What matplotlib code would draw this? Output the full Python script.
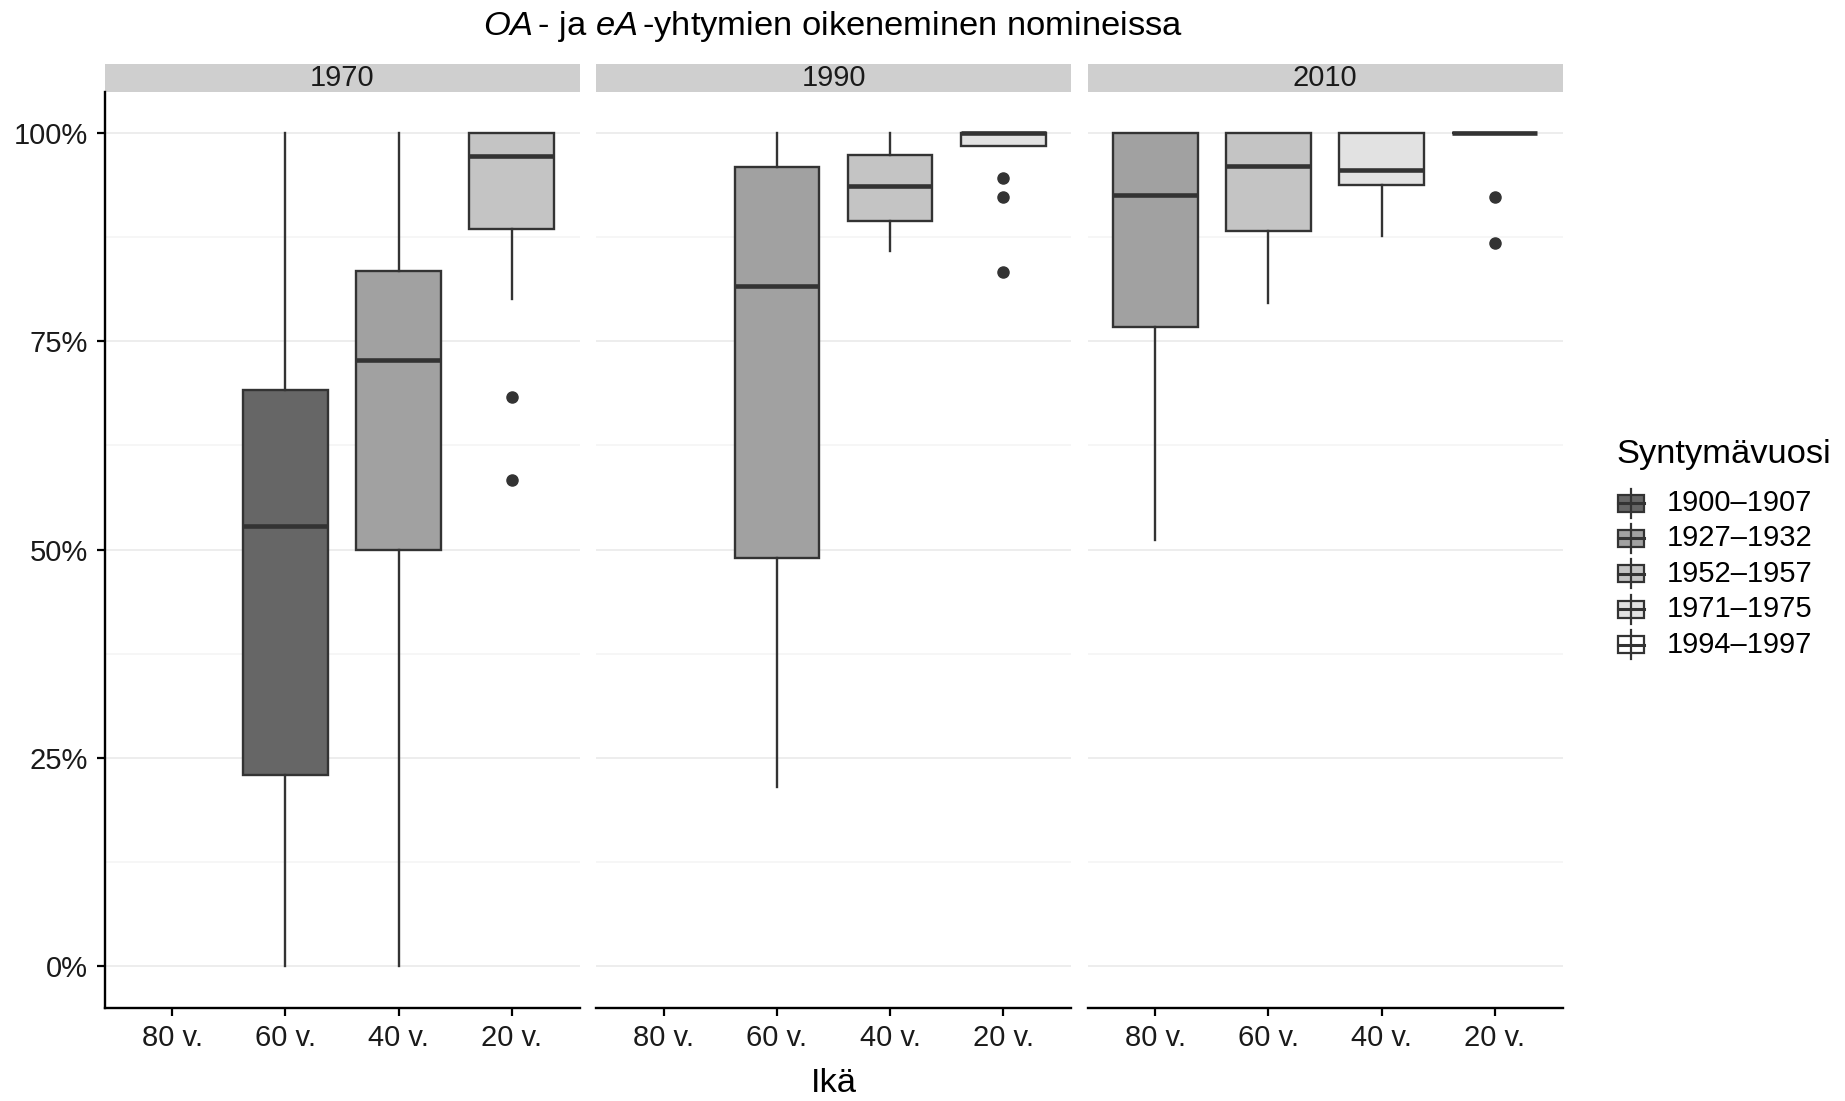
import matplotlib
matplotlib.use("Agg")
import matplotlib.pyplot as plt
from matplotlib.patches import Rectangle
from matplotlib.lines import Line2D
from matplotlib.ticker import PercentFormatter, MultipleLocator

plt.rcParams['font.family'] = ['Liberation Sans', 'DejaVu Sans']
plt.rcParams['mathtext.fontset'] = 'custom'
plt.rcParams['mathtext.rm'] = 'Liberation Sans'
plt.rcParams['mathtext.it'] = 'Liberation Sans:italic'

# ---- data ----
panel_years = ['1970', '1990', '2010']
age_labels = ['80 v.', '60 v.', '40 v.', '20 v.']
cohort_labels = ['1900–1907', '1927–1932', '1952–1957', '1971–1975', '1994–1997']
cohort_fills = ['#666666', '#A1A1A1', '#C4C4C4', '#E2E2E2', '#FFFFFF']

box_year = ['1970', '1970', '1970', '1990', '1990', '1990', '2010', '2010', '2010', '2010']
box_age = ['60 v.', '40 v.', '20 v.', '60 v.', '40 v.', '20 v.', '80 v.', '60 v.', '40 v.', '20 v.']
box_cohort = ['1900–1907', '1927–1932', '1952–1957',
              '1927–1932', '1952–1957', '1971–1975',
              '1927–1932', '1952–1957', '1971–1975', '1994–1997']
whisker_low = [0.0, 0.0, 80.1, 21.5, 85.8, 98.5, 51.1, 79.6, 87.6, 100.0]
q1 = [22.9, 50.0, 88.5, 49.0, 89.4, 98.5, 76.7, 88.2, 93.8, 100.0]
median = [52.8, 72.7, 97.2, 81.7, 93.6, 100.0, 92.6, 96.1, 95.6, 100.0]
q3 = [69.1, 83.4, 100.0, 95.9, 97.4, 100.0, 100.0, 100.0, 100.0, 100.0]
whisker_high = [100.0, 100.0, 100.0, 100.0, 100.0, 100.0, 100.0, 100.0, 100.0, 100.0]
outliers = [[], [], [68.3, 58.3], [], [], [94.6, 92.3, 83.3], [], [], [], [92.3, 86.8]]

W, H = 1845, 1101
fig = plt.figure(figsize=(W / 100, H / 100), dpi=100)
fig.patch.set_facecolor('white')

EDGE = '#333333'
small = 21
large = 24.8

panel_left = [104.5, 596, 1087.5]
panel_w = 475
panel_top, panel_bottom = 91.5, 1007.5
strip_h = 28

axes = []
for p, year in enumerate(panel_years):
    ax = fig.add_axes([panel_left[p] / W, 1 - panel_bottom / H,
                       panel_w / W, (panel_bottom - panel_top) / H])
    axes.append(ax)

    idx = [i for i, y in enumerate(box_year) if y == year]
    stats = []
    pos = []
    for i in idx:
        stats.append({'whislo': whisker_low[i] / 100, 'q1': q1[i] / 100,
                      'med': median[i] / 100, 'q3': q3[i] / 100,
                      'whishi': whisker_high[i] / 100,
                      'fliers': [v / 100 for v in outliers[i]]})
        pos.append(age_labels.index(box_age[i]) + 1)

    res = ax.bxp(stats, positions=pos, widths=0.75, patch_artist=True,
                 showcaps=False,
                 boxprops=dict(edgecolor=EDGE, linewidth=1.7),
                 whiskerprops=dict(color=EDGE, linewidth=1.7),
                 medianprops=dict(color=EDGE, linewidth=3.3, solid_capstyle='butt'),
                 flierprops=dict(marker='o', markersize=8, markerfacecolor=EDGE,
                                 markeredgecolor=EDGE, linestyle='none'))
    for box, i in zip(res['boxes'], idx):
        box.set_facecolor(cohort_fills[cohort_labels.index(box_cohort[i])])
        box.set_zorder(2)
    for m in res['medians']:
        m.set_zorder(3)

    ax.set_xlim(0.4, 4.6)
    ax.set_ylim(-0.05, 1.05)
    ax.set_xticks(range(1, 5))
    ax.set_xticklabels(age_labels)
    ax.yaxis.set_major_locator(MultipleLocator(0.25))
    ax.yaxis.set_minor_locator(MultipleLocator(0.125))
    ax.yaxis.set_major_formatter(PercentFormatter(xmax=1, decimals=0))
    ax.grid(axis='y', which='major', color='#EDEDED', linewidth=1.4, zorder=0)
    ax.grid(axis='y', which='minor', color='#F4F4F4', linewidth=1.1, zorder=0)
    ax.set_axisbelow(True)

    for s in ['top', 'right']:
        ax.spines[s].set_visible(False)
    ax.spines['bottom'].set_linewidth(1.7)
    ax.spines['bottom'].set_color('black')
    ax.tick_params(axis='x', length=6, width=1.6, pad=6, labelsize=small,
                   labelcolor='#1A1A1A', color='black')
    ax.tick_params(axis='y', which='minor', length=0)
    if p == 0:
        ax.spines['left'].set_linewidth(1.7)
        ax.tick_params(axis='y', which='major', length=6, width=1.6, pad=6,
                       labelsize=small, labelcolor='#1A1A1A')
    else:
        ax.spines['left'].set_visible(False)
        ax.tick_params(axis='y', which='major', length=0, labelleft=False)

    # facet strip
    ax_h = panel_bottom - panel_top
    ax.add_patch(Rectangle((0, 1), 1, strip_h / ax_h, transform=ax.transAxes,
                           facecolor='#CFCFCF', edgecolor='none', clip_on=False))
    ax.text(0.5, 1 + strip_h / ax_h / 2 - 0.001, year, transform=ax.transAxes,
            ha='center', va='center', fontsize=small, color='#1A1A1A')

center_x = (panel_left[0] + panel_left[2] + panel_w) / 2 / W
fig.text(center_x, 1 - 26 / H,
         r'$\mathit{OA}\,$- ja $\mathit{eA}\,$-yhtymien oikeneminen nomineissa',
         ha='center', va='center', fontsize=large)
fig.text(center_x, 1 - 1083 / H, 'Ikä', ha='center', va='center', fontsize=large)

# legend drawn by hand to mimic boxplot keys
fig.text(1616 / W, 1 - 455 / H, 'Syntymävuosi', ha='left', va='center', fontsize=large)
for k, (lab, col) in enumerate(zip(cohort_labels, cohort_fills)):
    cy = 503 + k * 35.4
    fig.add_artist(Line2D([1630.7 / W, 1630.7 / W], [1 - (cy - 14.5) / H, 1 - (cy + 14.5) / H],
                          color=EDGE, linewidth=1.6))
    fig.add_artist(Rectangle((1617.5 / W, 1 - (cy + 8.5) / H), 26.5 / W, 17 / H,
                             facecolor=col, edgecolor=EDGE, linewidth=1.6))
    fig.add_artist(Line2D([1617.5 / W, 1644 / W], [1 - cy / H, 1 - cy / H],
                          color=EDGE, linewidth=2.2))
    fig.text(1667 / W, 1 - cy / H, lab, ha='left', va='center', fontsize=small)

fig.savefig('out.png', dpi=100, facecolor='white')
